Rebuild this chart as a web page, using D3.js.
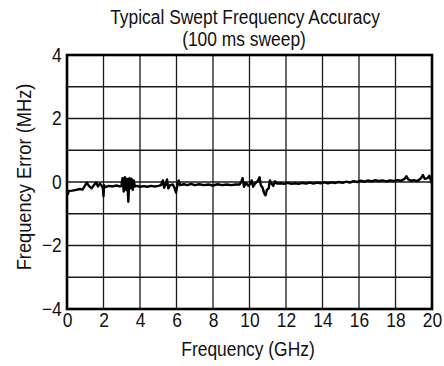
<!DOCTYPE html>
<html>
<head>
<meta charset="utf-8">
<script src="https://cdn.jsdelivr.net/npm/d3@7"></script>
<style>
  body { margin: 0; background: #fff; }
  text { font-family: "Liberation Sans", Arial, sans-serif; fill: #111; }
</style>
</head>
<body>
<div id="chart"></div>
<script>
const freqGHz = [
  0.00, 0.05, 0.10, 0.30, 0.50, 0.70, 0.85, 1.00, 1.08, 1.20, 1.35, 1.50, 1.60, 1.70, 1.80, 1.90,
  1.97, 2.00, 2.03, 2.10, 2.30, 2.50, 2.70, 2.90, 2.98, 3.04, 3.11, 3.17, 3.24, 3.30, 3.36, 3.42,
  3.48, 3.54, 3.60, 3.66, 3.72, 3.85, 4.00, 4.20, 4.40, 4.60, 4.80, 5.00, 5.15, 5.25, 5.32, 5.40,
  5.48, 5.55, 5.65, 5.80, 5.90, 5.97, 6.05, 6.12, 6.20, 6.40, 6.60, 6.80, 7.00, 7.25, 7.50, 7.75,
  8.00, 8.25, 8.50, 8.75, 9.00, 9.25, 9.45, 9.55, 9.62, 9.70, 9.80, 9.95, 10.05, 10.12, 10.20, 10.30,
  10.45, 10.55, 10.62, 10.72, 10.80, 10.88, 10.95, 11.05, 11.12, 11.20, 11.30, 11.40, 11.50, 11.70,
  11.90, 12.10, 12.30, 12.50, 12.70, 12.90, 13.10, 13.30, 13.50, 13.70, 13.90, 14.10, 14.30, 14.50,
  14.70, 14.90, 15.10, 15.30, 15.50, 15.70, 15.90, 16.10, 16.30, 16.50, 16.70, 16.90, 17.10, 17.30,
  17.50, 17.70, 17.90, 18.10, 18.30, 18.50, 18.60, 18.70, 18.85, 19.00, 19.20, 19.40, 19.50, 19.60,
  19.75, 19.85, 19.92, 20.00
];
const errMHz = [
  -0.30, -0.38, -0.28, -0.27, -0.25, -0.22, -0.24, -0.10, -0.02, -0.12, -0.20, -0.08, -0.02, -0.14, -0.05, -0.12,
  -0.20, -0.45, -0.10, -0.16, -0.12, -0.14, -0.11, -0.14, -0.13, 0.12, -0.30, 0.15, -0.25, 0.10, -0.62, 0.12,
  -0.20, 0.10, -0.25, 0.05, -0.14, -0.12, -0.15, -0.13, -0.15, -0.12, -0.14, -0.12, -0.10, 0.05, -0.18, -0.08,
  0.08, -0.20, -0.10, -0.08, -0.20, -0.33, -0.10, 0.05, -0.10, -0.07, -0.10, -0.06, -0.10, -0.07, -0.10, -0.08,
  -0.11, -0.07, -0.10, -0.08, -0.10, -0.08, -0.08, 0.00, 0.12, -0.15, -0.03, -0.12, -0.05, 0.05, -0.15, -0.05,
  0.03, 0.15, -0.10, -0.18, -0.35, -0.42, -0.25, -0.20, 0.05, -0.05, -0.12, 0.02, -0.05, -0.04,
  -0.06, -0.03, -0.06, -0.04, -0.06, -0.03, -0.05, -0.02, -0.05, -0.02, -0.04, -0.01, -0.04, -0.01,
  -0.03, 0.00, -0.03, 0.01, -0.02, 0.03, 0.00, 0.04, 0.01, 0.05, 0.02, 0.06, 0.03, 0.05,
  0.02, 0.05, 0.03, 0.06, 0.04, 0.10, 0.18, 0.08, 0.04, 0.06, 0.03, 0.12, 0.22, 0.10,
  0.12, 0.20, 0.08, -0.05
];
const xTicks = [0, 2, 4, 6, 8, 10, 12, 14, 16, 18, 20];
const yTicks = [-4, -3, -2, -1, 0, 1, 2, 3, 4];
const yLabelTicks = [-4, -2, 0, 2, 4];

const W = 444, H = 366;
const margin = {top: 55, right: 12, bottom: 57, left: 67};
const chtW = W - margin.left - margin.right;
const chtH = H - margin.top - margin.bottom;
const FS = '20px';      // narrow, tall lettering like the scanned original
const SQUEEZE = 'scale(0.87,1)';

const svg = d3.select('#chart').append('svg').attr('width', W).attr('height', H);

// titles
svg.append('text').attr('transform', 'translate(245,24) ' + SQUEEZE).attr('text-anchor', 'middle')
  .style('font-size', FS).text('Typical Swept Frequency Accuracy');
svg.append('text').attr('transform', 'translate(244,46) ' + SQUEEZE).attr('text-anchor', 'middle')
  .style('font-size', FS).text('(100 ms sweep)');

const g = svg.append('g').attr('transform', 'translate(' + margin.left + ',' + margin.top + ')');

const x = d3.scaleLinear().domain([0, 20]).range([0, chtW]);
const y = d3.scaleLinear().domain([-4, 4]).range([chtH, 0]);

// grid
g.selectAll('.vgrid').data(xTicks).enter().append('line')
  .attr('x1', d => x(d)).attr('x2', d => x(d))
  .attr('y1', 0).attr('y2', chtH)
  .attr('stroke', '#1a1a1a').attr('stroke-width', 1.3);
g.selectAll('.hgrid').data(yTicks).enter().append('line')
  .attr('x1', 0).attr('x2', chtW)
  .attr('y1', d => y(d)).attr('y2', d => y(d))
  .attr('stroke', '#1a1a1a').attr('stroke-width', 1.3);

// trace
const pts = freqGHz.map((f, i) => ({x: f, y: errMHz[i]}));
const line = d3.line().x(d => x(d.x)).y(d => y(d.y));
g.append('path').datum(pts)
  .attr('fill', 'none').attr('stroke', '#000')
  .attr('stroke-width', 2.4).attr('stroke-linejoin', 'round')
  .attr('d', line);

// frame
g.append('rect').attr('x', 0).attr('y', 0).attr('width', chtW).attr('height', chtH)
  .attr('fill', 'none').attr('stroke', '#000').attr('stroke-width', 2.6);

// axes (labels only, the lines are the grid)
const xAxis = d3.axisBottom(x).tickValues(xTicks).tickSize(0).tickPadding(4).tickFormat(d3.format('d'));
const xa = g.append('g').attr('transform', 'translate(0,' + chtH + ')').call(xAxis);
xa.select('.domain').remove();
xa.selectAll('text').style('font-size', FS).attr('fill', '#111').attr('transform', SQUEEZE)
  .style('font-family', '"Liberation Sans", Arial, sans-serif');

const yAxis = d3.axisLeft(y).tickValues(yLabelTicks).tickSize(0).tickPadding(6)
  .tickFormat(d => d < 0 ? '\u2212' + Math.abs(d) : d);
const ya = g.append('g').call(yAxis);
ya.select('.domain').remove();
ya.selectAll('text').style('font-size', FS).attr('fill', '#111').attr('transform', SQUEEZE)
  .style('font-family', '"Liberation Sans", Arial, sans-serif');

// axis titles
svg.append('text').attr('transform', 'translate(248,356) ' + SQUEEZE).attr('text-anchor', 'middle')
  .style('font-size', FS).text('Frequency (GHz)');
svg.append('text').attr('transform', 'translate(31,177) rotate(-90) ' + SQUEEZE).attr('text-anchor', 'middle')
  .style('font-size', '21px').text('Frequency Error (MHz)');
</script>
</body>
</html>
